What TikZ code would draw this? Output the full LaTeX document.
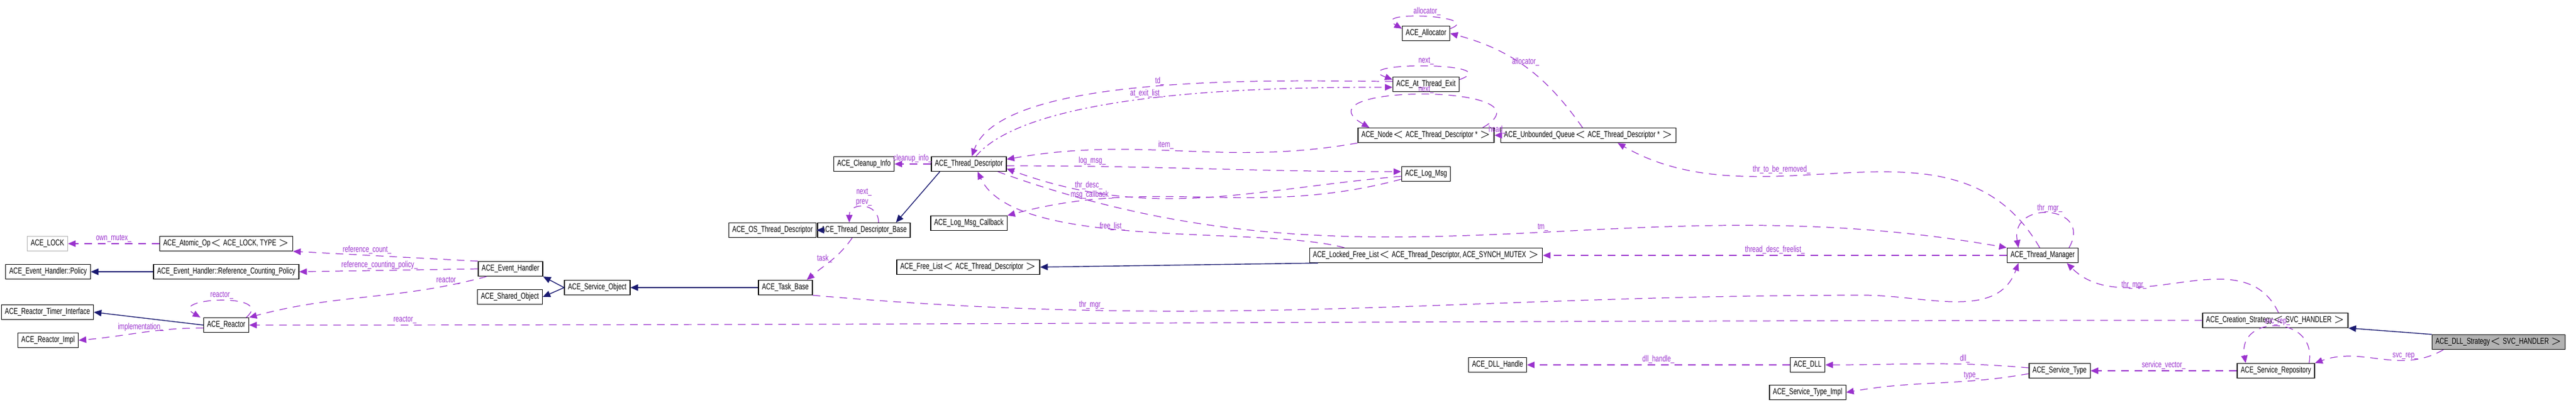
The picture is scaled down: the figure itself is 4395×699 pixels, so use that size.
\documentclass[tikz,border=0pt]{standalone}
\usepackage{fontspec}
\setmainfont{Liberation Sans}[FakeStretch=0.72]
\usetikzlibrary{arrows.meta,calc}
\definecolor{usecol}{HTML}{9A32CD}
\definecolor{inhcol}{HTML}{191970}
\begin{document}
\begin{tikzpicture}[x=0.01cm, y=-0.01cm,
    every node/.style={font=\fontsize{4.2}{4.6}\selectfont},
    cls/.style={draw, rectangle, line width=0.35pt, minimum height=0.25cm, inner xsep=0.6mm, inner ysep=0pt, fill=white},
    grey/.style={cls, draw=black!30},
    sel/.style={cls, fill=black!30},
    use/.style={-{Triangle[length=1.3mm, width=1.1mm]}, usecol, dashed, dash pattern=on 1.3mm off 1mm, line width=0.35pt},
    inh/.style={-{Triangle[length=1.3mm, width=1.1mm]}, inhcol, line width=0.4pt},
    lbl/.style={font=\fontsize{4.2}{4.6}\selectfont, inner sep=0.5pt}
  ]
  \useasboundingbox (0,0) rectangle (4395,699);

  % classes
  \node[grey] (lock)   at (81,416)   {ACE\_LOCK};
  \node[cls]  (atomic) at (386,416)  {ACE\_Atomic\_Op$<$ ACE\_LOCK, TYPE $>$};
  \node[cls]  (policy) at (82,464)   {ACE\_Event\_Handler::Policy};
  \node[cls]  (rcp)    at (386,464)  {ACE\_Event\_Handler::Reference\_Counting\_Policy};
  \node[cls]  (rti)    at (81,533)   {ACE\_Reactor\_Timer\_Interface};
  \node[cls]  (rimpl)  at (82,581)   {ACE\_Reactor\_Impl};
  \node[cls]  (reactor) at (386,555) {ACE\_Reactor};
  \node[cls]  (evh)    at (871,459)  {ACE\_Event\_Handler};
  \node[cls]  (shobj)  at (870,507)  {ACE\_Shared\_Object};
  \node[cls]  (svcobj) at (1019,491) {ACE\_Service\_Object};
  \node[cls]  (taskb)  at (1340,491) {ACE\_Task\_Base};
  \node[cls]  (ostd)   at (1318,393) {ACE\_OS\_Thread\_Descriptor};
  \node[cls]  (tdbase) at (1474,393) {ACE\_Thread\_Descriptor\_Base};
  \node[cls]  (cleanup) at (1474,280) {ACE\_Cleanup\_Info};
  \node[cls]  (td)     at (1653,280) {ACE\_Thread\_Descriptor};
  \node[cls]  (lmcb)   at (1653,381) {ACE\_Log\_Msg\_Callback};
  \node[cls]  (flist)  at (1652,456) {ACE\_Free\_List$<$ ACE\_Thread\_Descriptor $>$};
  \node[cls]  (lflist) at (2433,436) {ACE\_Locked\_Free\_List$<$ ACE\_Thread\_Descriptor, ACE\_SYNCH\_MUTEX $>$};
  \node[cls]  (alloc)  at (2433,57)  {ACE\_Allocator};
  \node[cls]  (atexit) at (2433,144) {ACE\_At\_Thread\_Exit};
  \node[cls]  (tdnode) at (2433,231) {ACE\_Node$<$ ACE\_Thread\_Descriptor * $>$};
  \node[cls]  (queue)  at (2710,231) {ACE\_Unbounded\_Queue$<$ ACE\_Thread\_Descriptor * $>$};
  \node[cls]  (logmsg) at (2433,297) {ACE\_Log\_Msg};
  \node[cls]  (tmgr)   at (3485,436) {ACE\_Thread\_Manager};
  \node[cls]  (crs)    at (3882,547) {ACE\_Creation\_Strategy$<$ SVC\_HANDLER $>$};
  \node[sel]  (dlls)   at (4263,584) {ACE\_DLL\_Strategy$<$ SVC\_HANDLER $>$};
  \node[cls]  (dllh)   at (2555,623) {ACE\_DLL\_Handle};
  \node[cls]  (dll)    at (3084,623) {ACE\_DLL};
  \node[cls]  (stype)  at (3514,633) {ACE\_Service\_Type};
  \node[cls]  (stimpl) at (3084,670) {ACE\_Service\_Type\_Impl};
  \node[cls]  (srep)   at (3883,633) {ACE\_Service\_Repository};

  % inheritance
  \draw[inh] (rcp) -- (policy);
  \draw[inh] (reactor.west) -- (rti.east);
  \draw[inh] (svcobj.west) -- (evh.south east);
  \draw[inh] (svcobj.west) -- (shobj.east);
  \draw[inh] (taskb) -- (svcobj);
  \draw[inh] ($(td.south west)+(15,0)$) -- ($(tdbase.north east)+(-25,0)$);
  \draw[inh] (tdbase) -- (ostd);
  \draw[inh] ($(lflist.south west)+(15,0)$) -- (flist.east);
  \draw[inh] (dlls.north west) -- (crs.south east);

  % usage
  \draw[use] (atomic) -- node[lbl, above] {own\_mutex\_} (lock);
  \draw[use] (evh.north west) -- node[lbl, above, pos=0.6] {reference\_count\_} (atomic.south east);
  \draw[use] (evh.west) -- node[lbl, above, pos=0.55] {reference\_counting\_policy\_} (rcp.east);
  \draw[use] ($(evh.south west)+(15,0)$) to[out=195, in=15] node[lbl, above, pos=0.15] {reactor\_} (reactor.north east);
  \draw[use] ($(reactor.west)+(0,5)$) to[out=180, in=5] node[lbl, above, pos=0.5] {implementation\_} (rimpl.east);
  \draw[use] ($(reactor.north east)+(-5,0)$) to[out=40, in=150, looseness=2.2] node[lbl, above] {reactor\_} ($(reactor.north west)+(-5,0)$);
  \draw[use] (crs.west) to[out=180, in=0] node[lbl, above, pos=0.93] {reactor\_} (reactor.east);
  \draw[use] ($(tdbase.south)+(-20,0)$) to[out=235, in=40] node[lbl, left, pos=0.45] {task\_} ($(taskb.north east)+(-10,0)$);
  \draw[use] ($(tdbase.north)+(25,0)$) to[out=90, in=90, looseness=1.8] node[lbl, above, align=center] {next\_\\prev\_} ($(tdbase.north)+(-25,0)$);
  \draw[use] (td) -- node[lbl, above] {cleanup\_info\_} (cleanup);
  \draw[use] ($(atexit.west)+(0,-5)$) to[out=180, in=70, looseness=0.55] node[lbl, above, pos=0.5] {td\_} ($(td.north)+(5,0)$);
  \draw[use, dash pattern=on 1.2mm off 0.6mm on 0.3mm off 0.6mm] ($(td.north)+(12,0)$) to[out=50, in=180, looseness=0.55] node[lbl, above, pos=0.45] {at\_exit\_list\_} ($(atexit.west)+(0,5)$);
  \draw[use] ($(atexit.north east)+(0,5)$) to[out=20, in=160, looseness=2] node[lbl, above] {next\_} ($(atexit.north west)+(0,5)$);
  \draw[use] (tdnode.south west) to[out=190, in=10] node[lbl, above, pos=0.55] {item\_} ($(td.east)+(0,-8)$);
  \draw[use] ($(tdnode.north east)+(-20,0)$) to[out=30, in=150, looseness=2] node[lbl, above] {next\_} ($(tdnode.north west)+(20,0)$);
  \draw[use] ($(td.east)+(0,3)$) to[out=0, in=180] node[lbl, above, pos=0.2] {log\_msg\_} ($(logmsg.west)+(0,-4)$);
  \draw[use] ($(logmsg.west)+(0,4)$) to[out=185, in=340] node[lbl, above, pos=0.8] {thr\_desc\_} ($(td.east)+(0,8)$);
  \draw[use] ($(logmsg.west)+(0,9)$) to[out=195, in=15] node[lbl, above, pos=0.8] {msg\_callback\_} (lmcb.north east);
  \draw[use] ($(lflist.north west)+(60,0)$) to[out=165, in=295, looseness=0.6] node[lbl, right, pos=0.6] {free\_list\_} ($(td.south)+(15,0)$);
  \draw[use] ($(td.south east)+(-15,0)$) to[out=340, in=170] node[lbl, above, pos=0.55] {tm\_} (tmgr.north west);
  \draw[use] (tmgr) -- node[lbl, above] {thread\_desc\_freelist\_} (lflist);
  \draw[use] ($(tmgr.north)+(-5,0)$) to[out=120, in=330] node[lbl, above, pos=0.65] {thr\_to\_be\_removed\_} ($(queue.south)+(50,0)$);
  \draw[use] ($(tmgr.north)+(45,0)$) to[out=60, in=100, looseness=2.5] node[lbl, above] {thr\_mgr\_} ($(tmgr.north west)+(20,0)$);
  \draw[use] (taskb.south east) to[out=-5, in=180] node[lbl, above, pos=0.25] {thr\_mgr\_} (3180,504) to[out=0, in=250] ($(tmgr.south west)+(20,0)$);
  \draw[use] (queue.west) -- node[lbl, above] {head\_} (tdnode.east);
  \draw[use] ($(queue.north)+(-10,0)$) to[out=125, in=-15] node[lbl, above, pos=0.5] {allocator\_} (alloc.east);
  \draw[use] ($(alloc.north east)+(0,5)$) to[out=20, in=150, looseness=2] node[lbl, above] {allocator\_} ($(alloc.north west)+(0,5)$);
  \draw[use] ($(crs.north west)+(130,0)$) to[out=115, in=315] node[lbl, right, pos=0.75] {thr\_mgr\_} ($(tmgr.south east)+(-20,0)$);
  \draw[use] ($(dlls.south west)+(20,0)$) to[out=210, in=20] node[lbl, above, pos=0.3] {svc\_rep\_} (srep.north east);
  \draw[use] ($(srep.north east)+(-10,0)$) to[out=80, in=100, looseness=2] node[lbl, above] {svc\_rep\_} ($(srep.north west)+(15,0)$);
  \draw[use] (srep) -- node[lbl, above] {service\_vector\_} (stype);
  \draw[use] ($(stype.west)+(0,-5)$) to[out=175, in=0] node[lbl, above, pos=0.3] {dll\_} (dll.east);
  \draw[use] ($(stype.west)+(0,5)$) to[out=190, in=10] node[lbl, above, pos=0.3] {type\_} (stimpl.east);
  \draw[use] (dll) -- node[lbl, above] {dll\_handle\_} (dllh);
\end{tikzpicture}
\end{document}
